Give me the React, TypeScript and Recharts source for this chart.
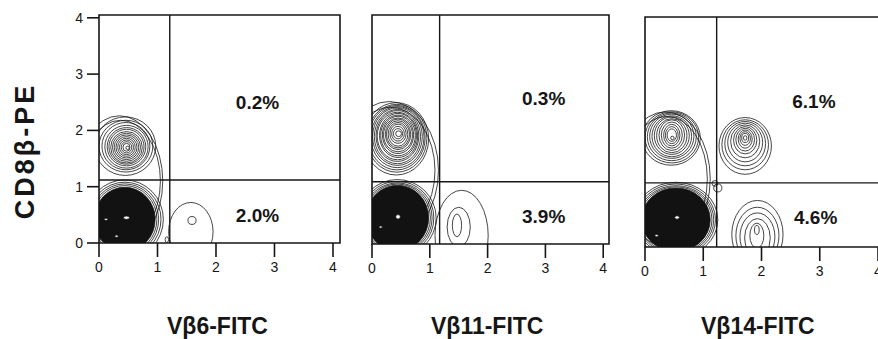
import React from 'react'
import { ScatterChart, Scatter, XAxis, YAxis, ReferenceLine, ReferenceArea } from 'recharts'

// one entry per contour level: centre and half-extent in axis units
type Ring = { x: number; y: number; rx: number; ry: number; core?: boolean; spot?: boolean }
type Note = { x: number; y: number; text: string }

const xTicks = [0, 1, 2, 3, 4]
const yTicks = [0, 1, 2, 3, 4]
const xLabels = ['Vβ6-FITC', 'Vβ11-FITC', 'Vβ14-FITC']
const yLabel = 'CD8β-PE'

const vb6Gate = { x: 1.21, y: 1.12 }
const vb6Notes: Note[] = [
  { x: 2.71, y: 2.5, text: '0.2%' },
  { x: 2.71, y: 0.49, text: '2.0%' },
]
const vb6Contours: Ring[] = [
  { x: 0.35, y: 1.1, rx: 0.74, ry: 1.16 },
  { x: 0.37, y: 1.1, rx: 0.68, ry: 1.08 },
  { x: 0.45, y: 1.72, rx: 0.52, ry: 0.52 },
  { x: 0.46, y: 1.72, rx: 0.46, ry: 0.46 },
  { x: 0.46, y: 1.72, rx: 0.41, ry: 0.42 },
  { x: 0.47, y: 1.71, rx: 0.37, ry: 0.38 },
  { x: 0.47, y: 1.71, rx: 0.33, ry: 0.34 },
  { x: 0.47, y: 1.71, rx: 0.3, ry: 0.31 },
  { x: 0.47, y: 1.7, rx: 0.27, ry: 0.28 },
  { x: 0.47, y: 1.7, rx: 0.24, ry: 0.25 },
  { x: 0.47, y: 1.7, rx: 0.21, ry: 0.22 },
  { x: 0.47, y: 1.7, rx: 0.18, ry: 0.19 },
  { x: 0.47, y: 1.7, rx: 0.15, ry: 0.16 },
  { x: 0.47, y: 1.7, rx: 0.12, ry: 0.13 },
  { x: 0.47, y: 1.7, rx: 0.09, ry: 0.1 },
  { x: 0.47, y: 1.7, rx: 0.06, ry: 0.07 },
  { x: 0.49, y: 1.69, rx: 0.03, ry: 0.03, spot: true },
  { x: 0.44, y: 0.42, rx: 0.66, ry: 0.7 },
  { x: 0.44, y: 0.42, rx: 0.62, ry: 0.66 },
  { x: 0.44, y: 0.42, rx: 0.58, ry: 0.63 },
  { x: 0.44, y: 0.42, rx: 0.55, ry: 0.6 },
  { x: 0.44, y: 0.42, rx: 0.52, ry: 0.57, core: true },
  { x: 0.47, y: 0.45, rx: 0.05, ry: 0.03, spot: true },
  { x: 0.12, y: 0.42, rx: 0.03, ry: 0.02, spot: true },
  { x: 0.3, y: 0.12, rx: 0.03, ry: 0.02, spot: true },
  { x: 1.57, y: 0.2, rx: 0.38, ry: 0.52 },
  { x: 1.59, y: 0.4, rx: 0.07, ry: 0.07 },
  { x: 1.16, y: 0.06, rx: 0.03, ry: 0.05 },
]

const vb11Gate = { x: 1.17, y: 1.1 }
const vb11Notes: Note[] = [
  { x: 2.97, y: 2.57, text: '0.3%' },
  { x: 2.97, y: 0.49, text: '3.9%' },
]
const vb11Contours: Ring[] = [
  { x: 0.3, y: 1.3, rx: 0.85, ry: 1.22 },
  { x: 0.32, y: 1.3, rx: 0.77, ry: 1.12 },
  { x: 0.42, y: 1.86, rx: 0.56, ry: 0.64 },
  { x: 0.43, y: 1.87, rx: 0.52, ry: 0.6 },
  { x: 0.43, y: 1.88, rx: 0.49, ry: 0.57 },
  { x: 0.44, y: 1.89, rx: 0.46, ry: 0.54 },
  { x: 0.44, y: 1.9, rx: 0.43, ry: 0.51 },
  { x: 0.44, y: 1.9, rx: 0.4, ry: 0.48 },
  { x: 0.44, y: 1.91, rx: 0.37, ry: 0.45 },
  { x: 0.44, y: 1.91, rx: 0.35, ry: 0.42 },
  { x: 0.45, y: 1.92, rx: 0.32, ry: 0.39 },
  { x: 0.45, y: 1.92, rx: 0.3, ry: 0.36 },
  { x: 0.45, y: 1.93, rx: 0.27, ry: 0.33 },
  { x: 0.45, y: 1.93, rx: 0.25, ry: 0.3 },
  { x: 0.45, y: 1.94, rx: 0.22, ry: 0.27 },
  { x: 0.45, y: 1.94, rx: 0.2, ry: 0.24 },
  { x: 0.45, y: 1.94, rx: 0.17, ry: 0.21 },
  { x: 0.45, y: 1.95, rx: 0.14, ry: 0.17 },
  { x: 0.45, y: 1.95, rx: 0.11, ry: 0.13 },
  { x: 0.45, y: 1.95, rx: 0.08, ry: 0.09 },
  { x: 0.46, y: 1.95, rx: 0.05, ry: 0.05, spot: true },
  { x: 0.44, y: 0.46, rx: 0.67, ry: 0.68 },
  { x: 0.44, y: 0.46, rx: 0.63, ry: 0.65 },
  { x: 0.44, y: 0.46, rx: 0.6, ry: 0.62 },
  { x: 0.44, y: 0.46, rx: 0.57, ry: 0.6 },
  { x: 0.44, y: 0.46, rx: 0.54, ry: 0.58, core: true },
  { x: 0.45, y: 0.48, rx: 0.04, ry: 0.04, spot: true },
  { x: 0.15, y: 0.3, rx: 0.03, ry: 0.02, spot: true },
  { x: 1.55, y: 0.15, rx: 0.46, ry: 0.8 },
  { x: 1.5, y: 0.3, rx: 0.2, ry: 0.35 },
  { x: 1.47, y: 0.33, rx: 0.08, ry: 0.2 },
]

const vb14Gate = { x: 1.23, y: 1.13 }
const vb14Notes: Note[] = [
  { x: 2.9, y: 2.57, text: '6.1%' },
  { x: 2.93, y: 0.52, text: '4.6%' },
]
const vb14Contours: Ring[] = [
  { x: 0.35, y: 1.2, rx: 0.77, ry: 1.18 },
  { x: 0.37, y: 1.2, rx: 0.7, ry: 1.1 },
  { x: 0.45, y: 1.92, rx: 0.5, ry: 0.48 },
  { x: 0.46, y: 1.93, rx: 0.46, ry: 0.45 },
  { x: 0.46, y: 1.94, rx: 0.42, ry: 0.42 },
  { x: 0.46, y: 1.95, rx: 0.38, ry: 0.39 },
  { x: 0.46, y: 1.95, rx: 0.34, ry: 0.36 },
  { x: 0.46, y: 1.96, rx: 0.3, ry: 0.33 },
  { x: 0.46, y: 1.96, rx: 0.26, ry: 0.3 },
  { x: 0.46, y: 1.97, rx: 0.22, ry: 0.27 },
  { x: 0.46, y: 1.97, rx: 0.18, ry: 0.23 },
  { x: 0.46, y: 1.97, rx: 0.14, ry: 0.19 },
  { x: 0.46, y: 1.97, rx: 0.11, ry: 0.15 },
  { x: 0.46, y: 1.97, rx: 0.08, ry: 0.11 },
  { x: 0.47, y: 1.92, rx: 0.03, ry: 0.03, spot: true },
  { x: 1.72, y: 1.78, rx: 0.45, ry: 0.5 },
  { x: 1.72, y: 1.8, rx: 0.4, ry: 0.44 },
  { x: 1.72, y: 1.82, rx: 0.35, ry: 0.39 },
  { x: 1.72, y: 1.84, rx: 0.3, ry: 0.34 },
  { x: 1.72, y: 1.86, rx: 0.25, ry: 0.29 },
  { x: 1.72, y: 1.88, rx: 0.2, ry: 0.24 },
  { x: 1.72, y: 1.89, rx: 0.16, ry: 0.2 },
  { x: 1.72, y: 1.9, rx: 0.12, ry: 0.16 },
  { x: 1.72, y: 1.91, rx: 0.09, ry: 0.12 },
  { x: 1.72, y: 1.92, rx: 0.06, ry: 0.08 },
  { x: 1.72, y: 1.92, rx: 0.03, ry: 0.04 },
  { x: 0.53, y: 0.48, rx: 0.72, ry: 0.66 },
  { x: 0.53, y: 0.48, rx: 0.68, ry: 0.63 },
  { x: 0.53, y: 0.48, rx: 0.65, ry: 0.6 },
  { x: 0.53, y: 0.48, rx: 0.62, ry: 0.58 },
  { x: 0.53, y: 0.48, rx: 0.59, ry: 0.56, core: true },
  { x: 0.55, y: 0.52, rx: 0.04, ry: 0.03, spot: true },
  { x: 0.2, y: 0.2, rx: 0.03, ry: 0.02, spot: true },
  { x: 1.93, y: 0.22, rx: 0.44, ry: 0.6 },
  { x: 1.93, y: 0.2, rx: 0.37, ry: 0.5 },
  { x: 1.93, y: 0.18, rx: 0.3, ry: 0.42 },
  { x: 1.93, y: 0.16, rx: 0.22, ry: 0.34 },
  { x: 1.92, y: 0.2, rx: 0.12, ry: 0.22 },
  { x: 1.92, y: 0.3, rx: 0.04, ry: 0.08 },
  { x: 1.25, y: 1.04, rx: 0.07, ry: 0.07 },
  { x: 1.2, y: 1.12, rx: 0.05, ry: 0.05 },
]

const FONT = '"Liberation Sans", Arial, sans-serif'
const INK = '#161616'

interface PanelProps {
  left: number
  top: number
  bottom: number
  plotWidth: number
  xMax: number
  yMax: number
  contours: Ring[]
  notes: Note[]
  gate: { x: number; y: number }
  showY?: boolean
}

function Panel({ left, top, bottom, plotWidth, xMax, yMax, contours, notes, gate, showY }: PanelProps) {
  const axisW = 60
  const axisH = 40
  const width = axisW + plotWidth + 20
  const height = bottom + axisH
  const kx = plotWidth / xMax
  const ky = (bottom - top) / yMax

  const ring = (props: any) => {
    const { cx, cy, payload } = props
    if (cx == null || cy == null) return <g />
    const r = payload as Ring
    return (
      <ellipse
        cx={cx}
        cy={cy}
        rx={r.rx * kx}
        ry={r.ry * ky}
        fill={r.core ? '#121212' : r.spot ? '#fff' : 'none'}
        stroke={INK}
        strokeWidth={0.8}
      />
    )
  }

  const note = (props: any) => {
    const { cx, cy, payload } = props
    if (cx == null || cy == null) return <g />
    return (
      <text x={cx} y={cy} textAnchor="middle" dominantBaseline="central" fontFamily={FONT} fontWeight="bold" fontSize={19} fill={INK}>
        {payload.text}
      </text>
    )
  }

  return (
    <div style={{ position: 'absolute', left: left - axisW, top: 0 }}>
      <ScatterChart width={width} height={height} margin={{ top, right: 20, bottom: 0, left: 0 }}>
        <XAxis
          type="number"
          dataKey="x"
          domain={[0, xMax]}
          ticks={xTicks}
          allowDataOverflow
          height={axisH}
          tickSize={14}
          tickMargin={5}
          axisLine={false}
          tickLine={{ stroke: INK, strokeWidth: 1.6 }}
          tick={{ fontFamily: FONT, fontSize: 14, fill: INK }}
        />
        <YAxis
          type="number"
          dataKey="y"
          domain={[0, yMax]}
          ticks={yTicks}
          allowDataOverflow
          width={axisW}
          tickSize={showY ? 12 : 0}
          tickMargin={4}
          axisLine={false}
          tickLine={showY ? { stroke: INK, strokeWidth: 1.6 } : false}
          tick={showY ? { fontFamily: FONT, fontSize: 14, fill: INK } : false}
        />
        <Scatter data={contours} shape={ring} isAnimationActive={false} />
        <ReferenceLine x={gate.x} stroke={INK} strokeWidth={1.4} />
        <ReferenceLine y={gate.y} stroke={INK} strokeWidth={1.4} />
        <ReferenceArea x1={0} x2={xMax} y1={0} y2={yMax} fill="none" stroke={INK} strokeWidth={1.6} />
        <Scatter data={notes} shape={note} isAnimationActive={false} />
      </ScatterChart>
    </div>
  )
}

const bottomLabel = (text: string, x: number) => (
  <div
    key={text}
    style={{
      position: 'absolute',
      left: x,
      top: 315,
      fontFamily: FONT,
      fontWeight: 'bold',
      fontSize: 23,
      color: INK,
      lineHeight: '23px',
      whiteSpace: 'nowrap',
    }}
  >
    {text}
  </div>
)

export default function App() {
  return (
    <div style={{ position: 'absolute', left: 0, top: 0, width: 878, height: 339, overflow: 'hidden', background: '#fff' }}>
      <Panel left={99} top={15} bottom={243} plotWidth={241} xMax={4.12} yMax={4.05} contours={vb6Contours} notes={vb6Notes} gate={vb6Gate} showY />
      <Panel left={372} top={15} bottom={244} plotWidth={237} xMax={4.1} yMax={4.05} contours={vb11Contours} notes={vb11Notes} gate={vb11Gate} />
      <Panel left={645} top={17} bottom={247} plotWidth={240} xMax={4.12} yMax={4.05} contours={vb14Contours} notes={vb14Notes} gate={vb14Gate} />
      <div
        style={{
          position: 'absolute',
          left: 25,
          top: 151,
          transform: 'translate(-50%, -50%) rotate(-90deg)',
          fontFamily: FONT,
          fontWeight: 'bold',
          fontSize: 27,
          letterSpacing: 3,
          color: INK,
          whiteSpace: 'nowrap',
          lineHeight: '27px',
        }}
      >
        {yLabel}
      </div>
      {bottomLabel(xLabels[0], 167)}
      {bottomLabel(xLabels[1], 431)}
      {bottomLabel(xLabels[2], 701)}
    </div>
  )
}
